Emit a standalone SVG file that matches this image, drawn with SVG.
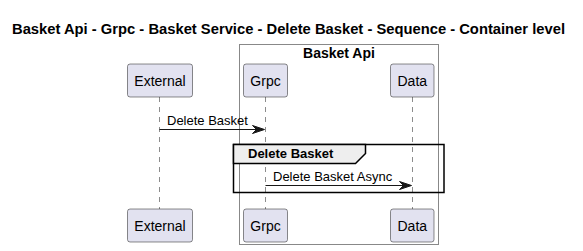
<svg xmlns="http://www.w3.org/2000/svg" width="583" height="251" viewBox="0 0 583 251">
  <defs>
    <style>
      text { font-family: "Liberation Sans", Arial, sans-serif; fill: #000000; }
      .title { font-size: 14px; font-weight: bold; }
      .boxlabel { font-size: 14px; font-weight: bold; }
      .part rect { fill: #E2E2F0; stroke: #181818; stroke-width: 0.5; }
      .part text { font-size: 14px; }
      .life { stroke: #181818; stroke-width: 0.5; stroke-dasharray: 5,5; fill: none; }
      .msg { stroke: #181818; stroke-width: 1; fill: none; }
      .head { fill: #181818; stroke: #181818; stroke-width: 1; }
      .msgtext { font-size: 13px; }
      .frame { fill: none; stroke: #000000; stroke-width: 1.5; }
      .tab { fill: #EEEEEE; stroke: #000000; stroke-width: 1.5; }
      .tabtext { font-size: 13px; font-weight: bold; }
    </style>
  </defs>

  <rect width="583" height="251" fill="#FFFFFF"/>

  <text class="title" x="12" y="34" textLength="553" lengthAdjust="spacingAndGlyphs">Basket Api - Grpc - Basket Service - Delete Basket - Sequence - Container level</text>

  <!-- container box -->
  <g id="box-basket-api">
    <rect x="239.5" y="44.5" width="199" height="200" fill="none" stroke="#888888" stroke-width="1"/>
    <text class="boxlabel" x="339" y="58" text-anchor="middle">Basket Api</text>
  </g>

  <!-- lifelines -->
  <g id="lifelines">
    <line class="life" x1="159.5" y1="97" x2="159.5" y2="209"/>
    <line class="life" x1="265.5" y1="97" x2="265.5" y2="209"/>
    <line class="life" x1="412.5" y1="97" x2="412.5" y2="209"/>
  </g>

  <!-- fragment -->
  <g id="group-delete-basket">
    <rect class="frame" x="233.5" y="144.5" width="210.5" height="48"/>
    <polygon class="tab" points="233.5,144.5 365.5,144.5 365.5,153.5 355.5,163.5 233.5,163.5"/>
    <text class="tabtext" x="248" y="158">Delete Basket</text>
  </g>

  <!-- participants (top) -->
  <g id="external" class="part">
    <rect x="127.5" y="64" width="65" height="33" rx="2.5"/>
    <text x="160" y="85.5" text-anchor="middle">External</text>
  </g>
  <g id="grpc" class="part">
    <rect x="243.5" y="64" width="44" height="33" rx="2.5"/>
    <text x="265.5" y="85.5" text-anchor="middle">Grpc</text>
  </g>
  <g id="data" class="part">
    <rect x="390.5" y="64" width="43.5" height="33" rx="2.5"/>
    <text x="412.3" y="85.5" text-anchor="middle">Data</text>
  </g>

  <!-- participants (bottom) -->
  <g id="external-foot" class="part">
    <rect x="127.5" y="209" width="65" height="33" rx="2.5"/>
    <text x="160" y="230.5" text-anchor="middle">External</text>
  </g>
  <g id="grpc-foot" class="part">
    <rect x="243.5" y="209" width="44" height="33" rx="2.5"/>
    <text x="265.5" y="230.5" text-anchor="middle">Grpc</text>
  </g>
  <g id="data-foot" class="part">
    <rect x="390.5" y="209" width="43.5" height="33" rx="2.5"/>
    <text x="412.3" y="230.5" text-anchor="middle">Data</text>
  </g>

  <!-- messages -->
  <g id="connectors">
    <line class="msg" x1="159.5" y1="129.5" x2="262" y2="129.5"/>
    <polygon class="head" points="252.5,125.5 264.5,129.5 252.5,133.5 256.5,129.5"/>
    <text class="msgtext" x="167" y="125">Delete Basket</text>

    <line class="msg" x1="265.5" y1="185.5" x2="409" y2="185.5"/>
    <polygon class="head" points="399.5,181.5 411.5,185.5 399.5,189.5 403.5,185.5"/>
    <text class="msgtext" x="273" y="181">Delete Basket Async</text>
  </g>
</svg>
